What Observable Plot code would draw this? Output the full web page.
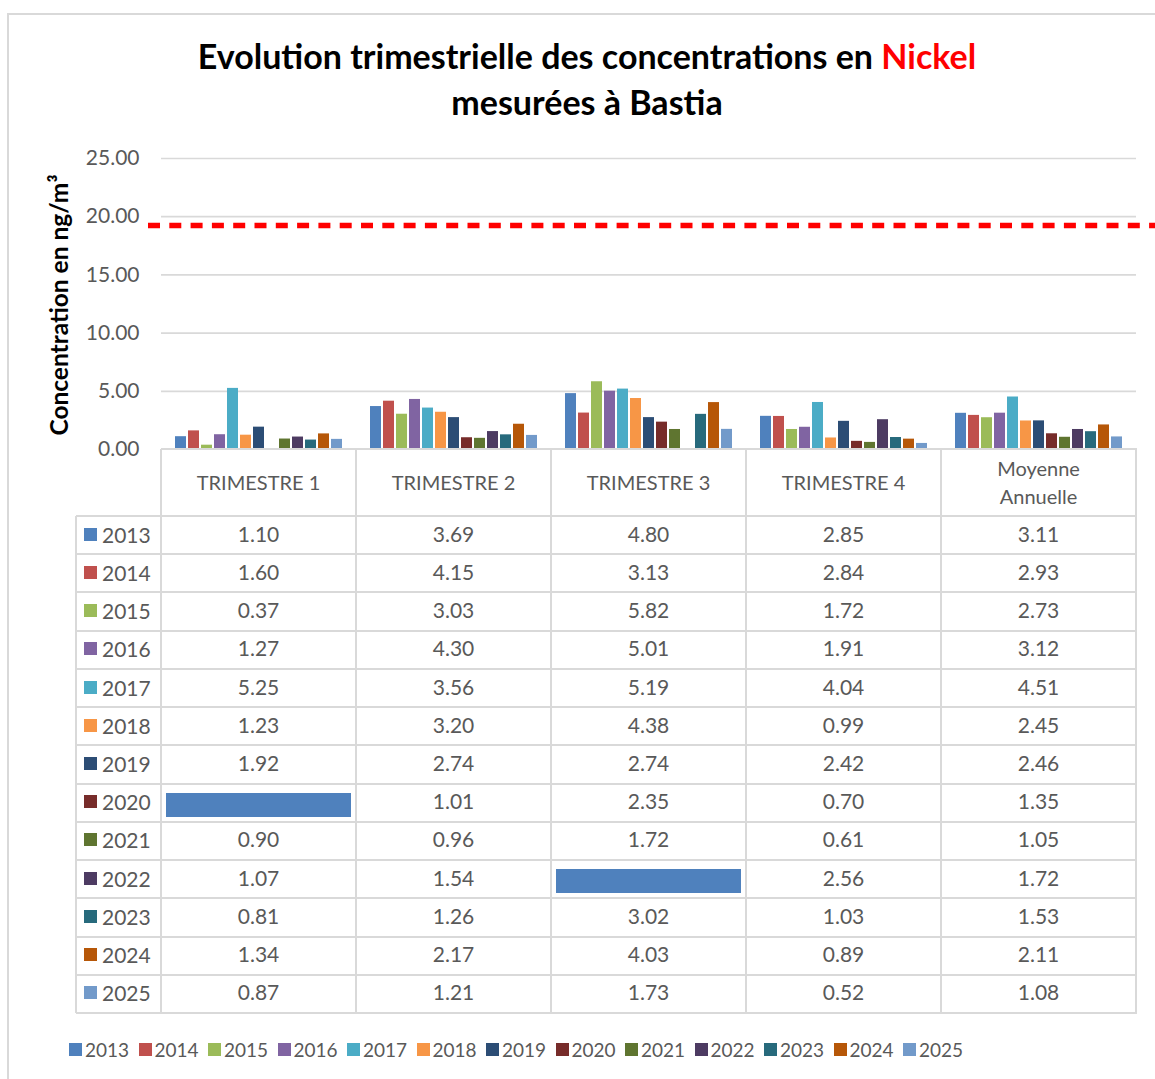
<!DOCTYPE html>
<html><head><meta charset="utf-8">
<script src="https://cdn.jsdelivr.net/npm/d3@7"></script>
<script src="https://cdn.jsdelivr.net/npm/@observablehq/plot@0.6"></script>
<style>
body{margin:0;width:1155px;height:1079px;overflow:hidden;background:#fff;font-family:Lato,"Open Sans",sans-serif;position:relative}
#frame{position:absolute;left:7px;top:13px;width:1200px;height:1200px;border:2px solid #d9d9d9;box-sizing:border-box}
#title{position:absolute;left:0;width:1174px;top:33px;text-align:center;font-weight:bold;font-size:34px;line-height:46px;color:#000}
#ylab{position:absolute;left:58px;top:305px;transform:translate(-50%,-50%) rotate(-90deg);white-space:nowrap;font-weight:bold;font-size:24.5px;color:#000}
#chart{position:absolute;left:0;top:140px}
.ln{position:absolute;background:#d9d9d9}
.cell{position:absolute;display:flex;align-items:center;justify-content:center;font-size:21px;color:#595959;text-align:center}
.hdr{font-size:20px;line-height:28px}
.sw{position:absolute;width:13px;height:13px}
.lt{position:absolute;font-size:21px;color:#595959;transform:translateY(-50%)}
.legt{position:absolute;font-size:19px;color:#595959;transform:translateY(-50%)}
</style></head>
<body>
<div id="frame"></div>
<div id="title">Evolution trimestrielle des concentrations en <span style="color:#ff0000">Nickel</span><br>mesurées à Bastia</div>
<div id="ylab">Concentration en ng/m³</div>
<div id="chart"></div>
<div id="table"></div>
<div id="legend"></div>
<script>
const quarters = ["TRIMESTRE 1", "TRIMESTRE 2", "TRIMESTRE 3", "TRIMESTRE 4", "Moyenne Annuelle"];
const years = ["2013","2014","2015","2016","2017","2018","2019","2020","2021","2022","2023","2024","2025"];
const trimestre1 = [1.10, 1.60, 0.37, 1.27, 5.25, 1.23, 1.92, null, 0.90, 1.07, 0.81, 1.34, 0.87];
const trimestre2 = [3.69, 4.15, 3.03, 4.30, 3.56, 3.20, 2.74, 1.01, 0.96, 1.54, 1.26, 2.17, 1.21];
const trimestre3 = [4.80, 3.13, 5.82, 5.01, 5.19, 4.38, 2.74, 2.35, 1.72, null, 3.02, 4.03, 1.73];
const trimestre4 = [2.85, 2.84, 1.72, 1.91, 4.04, 0.99, 2.42, 0.70, 0.61, 2.56, 1.03, 0.89, 0.52];
const moyenne = [3.11, 2.93, 2.73, 3.12, 4.51, 2.45, 2.46, 1.35, 1.05, 1.72, 1.53, 2.11, 1.08];
const yTicks = [0, 5, 10, 15, 20, 25];
const limitValue = 19.2;
const colors = ["#4F81BD","#C0504D","#9BBB59","#8064A2","#4BACC6","#F79646","#2C4D75","#772C2A","#5F7530","#4D3B62","#276A7C","#B65708","#729ACA"];

const series = [trimestre1, trimestre2, trimestre3, trimestre4, moyenne];
const data = [];
quarters.forEach((q, j) => years.forEach((y, i) => data.push({quarter: q, year: y, value: series[j][i]})));

const plot = Plot.plot({
  width: 1155,
  height: 325,
  marginLeft: 159,
  marginRight: 18,
  marginTop: 18,
  marginBottom: 16,
  style: {fontFamily: "Lato, 'Open Sans', sans-serif", fontSize: "21px", color: "#595959", background: "transparent", overflow: "visible"},
  fx: {axis: null, domain: quarters, padding: 0},
  x: {axis: null, domain: years, paddingInner: 0.17, paddingOuter: 0.93},
  y: {domain: [0, 25], ticks: yTicks, tickFormat: d3.format(".2f"), tickSize: 0, tickPadding: 22, label: null},
  color: {domain: years, range: colors},
  marks: [
    Plot.ruleY(yTicks.filter(d => d > 0), {stroke: "#d9d9d9", strokeWidth: 1.7, strokeOpacity: 1}),
    Plot.barY(data.filter(d => d.value != null), {fx: "quarter", x: "year", y: "value", fill: "year"})
  ]
});
document.getElementById("chart").appendChild(plot);

// limit line using the y scale
const ys = plot.scale("y");
const yl = ys.apply(limitValue);
d3.select(plot).append("line")
  .attr("x1", 148).attr("x2", 1160).attr("y1", yl).attr("y2", yl)
  .attr("stroke", "#ff0000").attr("stroke-width", 5.5).attr("stroke-dasharray", "12,9.3");

// table aligned to fx scale
const fx = plot.scale("fx");
const bw = fx.bandwidth;
const colX = quarters.map(q => fx.apply(q));
const top0 = 140 + ys.apply(0);
const hdrH = 67;
const rowH = (1013 - (top0 + hdrH)) / years.length;
const rowsTop = top0 + hdrH;
const leftX = 76;
const rightX = colX[4] + bw;
const tbl = document.getElementById("table");
function line(x, y, w, h) { const d = document.createElement("div"); d.className = "ln"; Object.assign(d.style, {left: x + "px", top: y + "px", width: w + "px", height: h + "px"}); tbl.appendChild(d); }
function cell(x, y, w, h, html, cls) { const d = document.createElement("div"); d.className = "cell" + (cls ? " " + cls : ""); Object.assign(d.style, {left: x + "px", top: y + "px", width: w + "px", height: h + "px"}); d.innerHTML = html; tbl.appendChild(d); return d; }
// header
quarters.forEach((q, j) => cell(colX[j], top0 - 1, bw, hdrH, q.replace("Moyenne ", "Moyenne<br>"), "hdr"));
// rows
years.forEach((y, i) => {
  const ty = rowsTop + i * rowH;
  const sw = document.createElement("div"); sw.className = "sw";
  Object.assign(sw.style, {left: "84px", top: (ty + rowH / 2 - 7.5) + "px", background: colors[i]}); tbl.appendChild(sw);
  const t = document.createElement("div"); t.className = "lt"; t.textContent = y;
  Object.assign(t.style, {left: "102px", top: (ty + rowH / 2 - 1.5) + "px"}); tbl.appendChild(t);
  series.forEach((s, j) => {
    const v = s[i];
    if (v == null) {
      const b = document.createElement("div");
      Object.assign(b.style, {position: "absolute", left: (colX[j] + 5) + "px", top: (ty + 9) + "px", width: (bw - 10) + "px", height: (rowH - 14) + "px", background: "#4F81BD"});
      tbl.appendChild(b);
    } else {
      cell(colX[j], ty - 2, bw, rowH, v.toFixed(2));
    }
  });
});
// grid lines
line(colX[0], top0 - 1, rightX - colX[0] + 1, 2);
for (let i = 0; i <= years.length; i++) line(leftX, rowsTop + i * rowH - 1, rightX - leftX + 1, 2);
line(leftX - 1, rowsTop, 2, years.length * rowH);
for (let j = 0; j <= quarters.length; j++) line(colX[0] + j * bw - 1, top0, 2, hdrH + years.length * rowH);

// legend
const leg = document.getElementById("legend");
years.forEach((y, i) => {
  const x = 69 + i * 69.5;
  const sw = document.createElement("div"); sw.className = "sw";
  Object.assign(sw.style, {left: x + "px", top: (1050 - 7) + "px", width: "13px", height: "13px", background: colors[i]}); leg.appendChild(sw);
  const t = document.createElement("div"); t.className = "legt"; t.textContent = y;
  Object.assign(t.style, {left: (x + 16) + "px", top: "1049px"}); leg.appendChild(t);
});
</script>
</body></html>
